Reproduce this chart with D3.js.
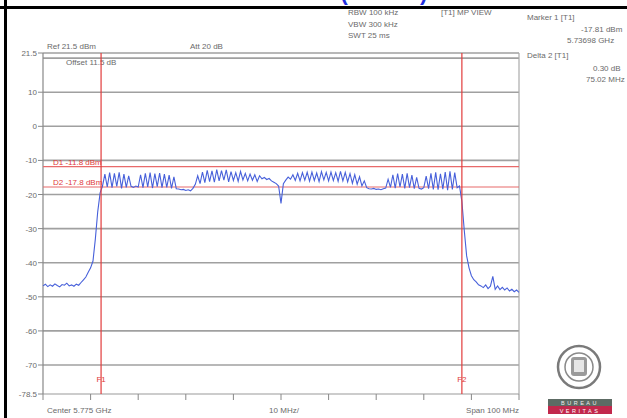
<!DOCTYPE html>
<html><head><meta charset="utf-8">
<script src="https://cdn.jsdelivr.net/npm/d3@7/dist/d3.min.js"></script>
<style>
html,body{margin:0;padding:0;background:#fff;}
svg{display:block;font-family:"Liberation Sans",Arial,sans-serif;}
</style></head>
<body>
<svg id="c" width="627" height="418"></svg>
<script>
// ---------- data ----------
const startMHz = 5725, stopMHz = 5825, stepMHz = 0.5;
const refLevel = 21.5, bottomLevel = -78.5;
const gridLevels = [20, 10, 0, -10, -20, -30, -40, -50, -60, -70];
const yTickLabels = ["21.5", "10", "0", "-10", "-20", "-30", "-40", "-50", "-60", "-70", "-78.5"];
const yTickValues = [21.5, 10, 0, -10, -20, -30, -40, -50, -60, -70, -78.5];
const xTickValues = [5725, 5735, 5745, 5755, 5765, 5775, 5785, 5795, 5805, 5815, 5825];
const traceLevels = [
 -46.8,-46.3,-47.0,-46.5,-46.9,-46.2,-46.7,-47.1,-46.4,-46.6,-46.0,-46.8,-46.5,-46.9,-46.3,-46.6,
 -45.8,-45.0,-44.2,-42.8,-41.5,-39.5,-33.0,-25.0,-19.5,-17.5,
 -14.0,-17.8,-13.6,-18.0,-13.8,-17.6,-13.5,-18.2,-14.0,-17.9,-14.5,
 -17.6,-17.9,-17.5,-17.8,
 -14.2,-18.0,-13.8,-17.8,-13.6,-18.1,-13.9,-17.7,-13.7,-18.0,-14.0,-17.9,-14.3,-18.2,-14.8,-18.3,
 -18.4,-18.6,-18.5,-18.8,-18.6,-18.9,-18.2,-17.0,
 -14.5,-16.8,-13.4,-16.5,-12.9,-16.2,-13.1,-16.4,-12.7,-16.0,-13.0,-15.8,-12.8,-16.3,-13.3,-15.9,-13.6,-16.1,-13.2,-15.7,-13.8,-16.0,-14.0,-15.8,-14.2,-16.2,-14.5,
 -15.4,-15.0,-15.6,-15.3,-16.0,-16.4,-16.8,-17.5,
 -22.6,
 -16.8,-15.8,-14.9,-15.5,-14.2,-15.9,-13.8,-16.0,-13.6,-15.8,-13.5,-16.1,-13.4,-15.9,-13.7,-16.2,-13.3,-15.7,-13.5,-16.0,-13.4,-15.9,-13.6,-16.1,-13.2,
 -16.0,-13.5,-16.3,-13.9,-16.7,-14.2,-17.0,-14.8,-17.5,-16.0,
 -18.0,-18.3,-18.4,-18.2,-18.5,-18.4,-18.6,-18.3,-18.1,
 -15.5,-17.9,-14.2,-18.1,-13.9,-17.8,-14.0,-18.2,-13.8,-18.0,-14.3,-18.3,-15.0,
 -18.2,-18.4,-18.0,
 -14.6,-18.3,-13.8,-18.5,-13.5,-18.6,-13.9,-18.4,-13.4,-18.7,-13.2,-18.5,-13.6,-18.0,
 -17.5,
 -22.0,-30.5,-38.0,-41.5,-43.8,-45.0,-45.6,-46.5,
 -46.8,-47.3,-46.5,-47.6,-46.9,-44.0,-47.8,-46.8,-47.9,-47.2,-48.0,-47.4,-48.3,-47.8,-48.5,-48.0,-48.7
];
const displayLineLevels = [-11.8, -17.8];
const displayLineLabels = ["D1 -11.8 dBm", "D2 -17.8 dBm"];
const freqLineValues = [5737.2, 5813.0];
const freqLineLabels = ["F1", "F2"];
const headerLeft = ["Ref 21.5 dBm", "Att 20 dB"];
const offsetText = "Offset 11.5 dB";
const settingsText = ["RBW 100 kHz", "VBW 300 kHz", "SWT 25 ms"];
const viewText = "[T1] MP VIEW";
const markerText = ["Marker 1 [T1]", "-17.81 dBm", "5.73698 GHz", "Delta 2 [T1]", "0.30 dB", "75.02 MHz"];
const bottomText = ["Center 5.775 GHz", "10 MHz/", "Span 100 MHz"];
const titleText = "(Ch 155)";

// ---------- drawing ----------
const svg = d3.select("#c");
const L = 43, R = 519, T = 53, B = 394;
const x = d3.scaleLinear().domain([startMHz, stopMHz]).range([L, R]);
const y = d3.scaleLinear().domain([refLevel, bottomLevel]).range([T, B]);
const txt = "#6a6a6a";
const fs = 8;

// title (clipped by top)
svg.append("text").attr("x", 384).attr("y", 0).attr("text-anchor", "middle")
  .attr("font-size", 22).attr("font-weight", "bold").attr("fill", "#1f2fe0").text(titleText);

// frame black lines
svg.append("line").attr("x1", 0).attr("x2", 627).attr("y1", 7.5).attr("y2", 7.5).attr("stroke", "#000").attr("stroke-width", 3);
svg.append("line").attr("x1", 5.5).attr("x2", 5.5).attr("y1", 0).attr("y2", 418).attr("stroke", "#000").attr("stroke-width", 3);

// grid
svg.append("g").selectAll("line").data(gridLevels.concat([refLevel])).join("line")
  .attr("x1", L).attr("x2", R).attr("y1", d => y(d)).attr("y2", d => y(d))
  .attr("stroke", "#a0a0a0").attr("stroke-width", 1.6);
svg.append("line").attr("x1", L).attr("x2", R).attr("y1", B).attr("y2", B).attr("stroke", "#999").attr("stroke-width", 1.2);
svg.append("line").attr("x1", L).attr("x2", L).attr("y1", T).attr("y2", B).attr("stroke", "#888").attr("stroke-width", 1.2);
svg.append("line").attr("x1", R).attr("x2", R).attr("y1", T).attr("y2", B).attr("stroke", "#aaa").attr("stroke-width", 1.2);

// y ticks + labels
const yg = svg.append("g");
yg.selectAll("line").data(yTickValues).join("line")
  .attr("x1", L - 5).attr("x2", L).attr("y1", d => y(d)).attr("y2", d => y(d)).attr("stroke", "#888");
yg.selectAll("text").data(yTickValues).join("text")
  .attr("x", L - 6).attr("y", d => y(d) + 3).attr("text-anchor", "end")
  .attr("font-size", fs).attr("fill", txt).text((d, i) => yTickLabels[i]);

// x ticks
svg.append("g").selectAll("line").data(xTickValues).join("line")
  .attr("x1", d => x(d)).attr("x2", d => x(d)).attr("y1", B).attr("y2", B + 6).attr("stroke", "#888");

// bottom texts
svg.append("text").attr("x", 47).attr("y", 413).attr("font-size", fs).attr("fill", txt).text(bottomText[0]);
svg.append("text").attr("x", 284).attr("y", 413).attr("text-anchor", "middle").attr("font-size", fs).attr("fill", txt).text(bottomText[1]);
svg.append("text").attr("x", 519).attr("y", 413).attr("text-anchor", "end").attr("font-size", fs).attr("fill", txt).text(bottomText[2]);

// header texts
svg.append("text").attr("x", 47).attr("y", 49).attr("font-size", fs).attr("fill", txt).text(headerLeft[0]);
svg.append("text").attr("x", 190).attr("y", 49).attr("font-size", fs).attr("fill", txt).text(headerLeft[1]);
svg.append("text").attr("x", 66).attr("y", 65).attr("font-size", fs).attr("fill", txt).text(offsetText);
svg.append("g").selectAll("text").data(settingsText).join("text")
  .attr("x", 348).attr("y", (d, i) => 15 + i * 11.5).attr("font-size", fs).attr("fill", txt).text(d => d);
svg.append("text").attr("x", 441).attr("y", 15).attr("font-size", fs).attr("fill", txt).text(viewText);
const mk = [[527, 20], [581, 32], [567, 43], [527, 58], [593, 71], [586, 82]];
svg.append("g").selectAll("text").data(markerText).join("text")
  .attr("x", (d, i) => mk[i][0]).attr("y", (d, i) => mk[i][1]).attr("font-size", fs).attr("fill", txt).text(d => d);

// display lines
svg.append("g").selectAll("line").data(displayLineLevels).join("line")
  .attr("x1", L).attr("x2", R).attr("y1", d => y(d)).attr("y2", d => y(d))
  .attr("stroke", "#e86a6a").attr("stroke-width", 1.2);
svg.append("g").selectAll("text").data(displayLineLevels).join("text")
  .attr("x", 53).attr("y", d => y(d) - 2).attr("font-size", fs).attr("fill", "#e03a3a")
  .text((d, i) => displayLineLabels[i]);

// trace
const line = d3.line().x((d, i) => x(startMHz + i * stepMHz)).y(d => y(d));
svg.append("path").datum(traceLevels).attr("d", line)
  .attr("fill", "none").attr("stroke", "#4760da").attr("stroke-width", 1.1);

// frequency lines
svg.append("g").selectAll("line").data(freqLineValues).join("line")
  .attr("x1", d => x(d)).attr("x2", d => x(d)).attr("y1", T).attr("y2", B)
  .attr("stroke", "#e23c3c").attr("stroke-width", 1.2);
svg.append("g").selectAll("text").data(freqLineValues).join("text")
  .attr("x", d => x(d)).attr("y", 382).attr("text-anchor", "middle")
  .attr("font-size", fs).attr("fill", "#e03a3a").text((d, i) => freqLineLabels[i]);

// logo
const lg = svg.append("g");
lg.append("circle").attr("cx", 579).attr("cy", 367).attr("r", 21).attr("fill", "#fff").attr("stroke", "#7a7a7a").attr("stroke-width", 2.5);
lg.append("circle").attr("cx", 579).attr("cy", 367).attr("r", 14).attr("fill", "none").attr("stroke", "#8a8a8a").attr("stroke-width", 1.5);
lg.append("rect").attr("x", 571).attr("y", 357).attr("width", 16).attr("height", 19).attr("rx", 3).attr("fill", "#9a9a9a");
lg.append("rect").attr("x", 574).attr("y", 360).attr("width", 10).attr("height", 12).attr("fill", "#e6e6e6");
lg.append("rect").attr("x", 548).attr("y", 399).attr("width", 64).attr("height", 7).attr("fill", "#5d6b64");
lg.append("rect").attr("x", 548).attr("y", 406).attr("width", 64).attr("height", 8).attr("fill", "#c2284c");
lg.append("text").attr("x", 580).attr("y", 405).attr("text-anchor", "middle").attr("font-size", 5.5).attr("letter-spacing", 2.5).attr("fill", "#eee").text("BUREAU");
lg.append("text").attr("x", 580).attr("y", 412.5).attr("text-anchor", "middle").attr("font-size", 5.5).attr("letter-spacing", 2.5).attr("fill", "#fff").text("VERITAS");
</script>
</body></html>
